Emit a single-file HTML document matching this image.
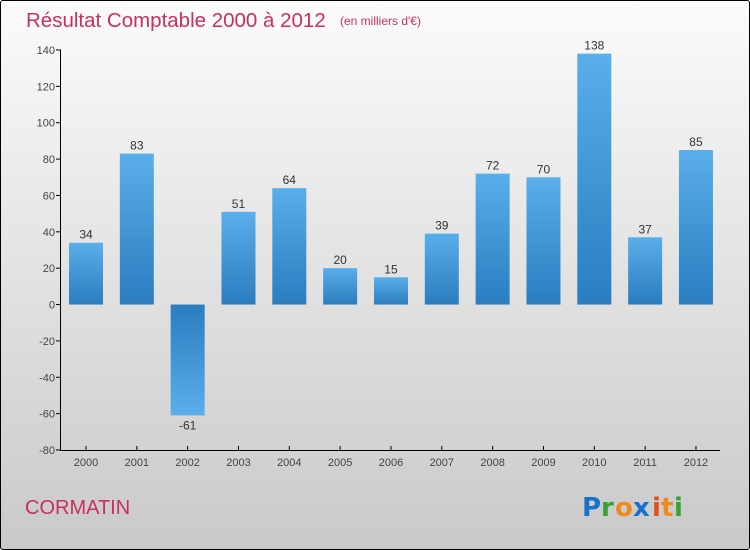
<!DOCTYPE html>
<html><head><meta charset="utf-8"><style>
body{margin:0;width:750px;height:550px;overflow:hidden;font-family:"Liberation Sans",sans-serif}
#frame{position:absolute;left:0;top:0;width:748px;height:548px;border:1px solid #000;border-radius:3px;background:linear-gradient(#fbfbfb,#c9c9c9)}
</style></head><body>
<div id="frame"></div>
<svg id="chart" width="750" height="550" style="position:absolute;left:0;top:0">
<defs>
<linearGradient id="gp" x1="0" y1="0" x2="0" y2="1"><stop offset="0" stop-color="#5aaeea"/><stop offset="1" stop-color="#2a7dbf"/></linearGradient>
<linearGradient id="gn" x1="0" y1="0" x2="0" y2="1"><stop offset="0" stop-color="#2a7dbf"/><stop offset="1" stop-color="#5aaeea"/></linearGradient>
</defs>
<text x="26" y="27" font-size="20.5" fill="#c8305e">Résultat Comptable 2000 à 2012</text>
<text x="340" y="25" font-size="12" fill="#c8305e">(en milliers d'€)</text>
<text x="25" y="514" font-size="20" fill="#c8305e">CORMATIN</text>
<g font-size="26" font-weight="bold" font-family="'DejaVu Sans',sans-serif">
<text x="582" y="516" fill="#1a72c8">P</text><text x="601" y="516" fill="#3aa03a">r</text><text x="615" y="516" fill="#f08a1a">o</text><text x="633" y="516" fill="#1a72c8">x</text><text x="652" y="516" fill="#e05020">i</text><text x="661" y="516" fill="#f08a1a">t</text><text x="674" y="516" fill="#3aa03a">i</text>
</g>
<g id="plot"></g>
</svg>
<script>
const years=["2000","2001","2002","2003","2004","2005","2006","2007","2008","2009","2010","2011","2012"];
const values=[34,83,-61,51,64,20,15,39,72,70,138,37,85];
const yTicks=[140,120,100,80,60,40,20,0,-20,-40,-60,-80];
const NS="http://www.w3.org/2000/svg";
const g=document.getElementById('plot');
const y=v=>50+(140-v)*400/220;
const x=i=>86+i*50.83;
function mk(t,a,txt){const e=document.createElementNS(NS,t);for(const k in a)e.setAttribute(k,a[k]);if(txt!==undefined)e.textContent=txt;g.appendChild(e);return e;}
yTicks.forEach(t=>{
 const l=mk('line',{x1:56,x2:61,y1:y(t),y2:y(t),stroke:'#000'});
 
 
 const tx=mk('text',{x:55,y:y(t)+4,'font-size':11,fill:'#444','text-anchor':'end'},String(t));
 
 
});
values.forEach((v,i)=>{
 const cx=x(i),top=Math.min(y(v),y(0)),h=Math.abs(y(v)-y(0));
 const r=mk('rect',{x:cx-17,y:top,width:34,height:h,fill:v>=0?'url(#gp)':'url(#gn)'});
 
 
 const lt=mk('text',{x:cx,y:v>=0?y(v)-4:y(v)+14,'font-size':12,fill:'#333','text-anchor':'middle'},String(v));
 
 
 const tk=mk('line',{x1:cx,x2:cx,y1:y(-80)-4,y2:y(-80)+1,stroke:'#000'});
 
 
 const xl=mk('text',{x:cx,y:466,'font-size':11,fill:'#444','text-anchor':'middle'},years[i]);
 
 
});
const ya=mk('line',{x1:60.5,x2:60.5,y1:y(140),y2:y(-80),stroke:'#000'});


const xa=mk('line',{x1:60,x2:720,y1:y(-80)+0.5,y2:y(-80)+0.5,stroke:'#000'});


</script>
</body></html>
